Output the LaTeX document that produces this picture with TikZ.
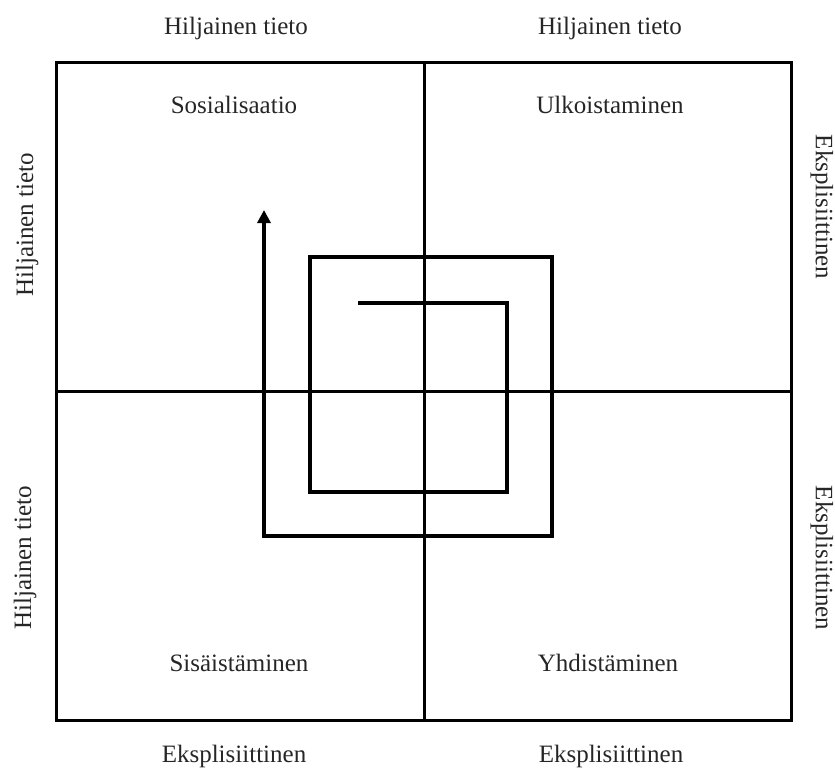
\documentclass[tikz,border=0pt]{standalone}
\usepackage{fontspec}
\setmainfont{Liberation Serif}
\usetikzlibrary{arrows.meta}
\begin{document}
\begin{tikzpicture}[x=1pt,y=-1pt,
  frame/.style={line width=3pt,line cap=rect},
  spiral/.style={line width=4.5pt,line join=miter},
  lbl/.style={font=\fontsize{25}{28}\selectfont,inner sep=0pt,text=black!85},
  side/.style={lbl,rotate=-90}]
\useasboundingbox (0,0) rectangle (835,772);
% frame and axes
\coordinate (tl) at (56,62);
\coordinate (br) at (791,720);
\coordinate (tm) at (424,62);
\coordinate (bm) at (424,720);
\coordinate (lm) at (56,391);
\coordinate (rm) at (791,391);
\draw[frame] (tl) rectangle (br);
\draw[frame] (tm) -- (bm);
\draw[frame] (lm) -- (rm);
% spiral
\coordinate (s0) at (358,303);
\coordinate (s1) at (507,303);
\coordinate (s2) at (507,492);
\coordinate (s3) at (310,492);
\coordinate (s4) at (310,257);
\coordinate (s5) at (552,257);
\coordinate (s6) at (552,536);
\coordinate (s7) at (264,536);
\coordinate (s8) at (264,210);
\draw[spiral,-{Triangle[width=13pt,length=13pt]}]
  (s0) -- (s1) -- (s2) -- (s3) -- (s4) -- (s5) -- (s6) -- (s7) -- (s8);
% quadrant labels
\node[lbl] (q1) at (234,105) {Sosialisaatio};
\node[lbl] (q2) at (610,105) {Ulkoistaminen};
\node[lbl] (q3) at (239,663) {Sisäistäminen};
\node[lbl] (q4) at (608,663) {Yhdistäminen};
% outer labels
\node[lbl] (t1) at (236,28) {Hiljainen tieto};
\node[lbl] (t2) at (610,28) {Hiljainen tieto};
\node[lbl] (b1) at (234,756) {Eksplisiittinen};
\node[lbl] (b2) at (611,756) {Eksplisiittinen};
\node[lbl,rotate=90] (l1) at (27,225) {Hiljainen tieto};
\node[lbl,rotate=90] (l2) at (25,558) {Hiljainen tieto};
\node[side] (r1) at (822,207) {Eksplisiittinen};
\node[side] (r2) at (822,558) {Eksplisiittinen};
\end{tikzpicture}
\end{document}
